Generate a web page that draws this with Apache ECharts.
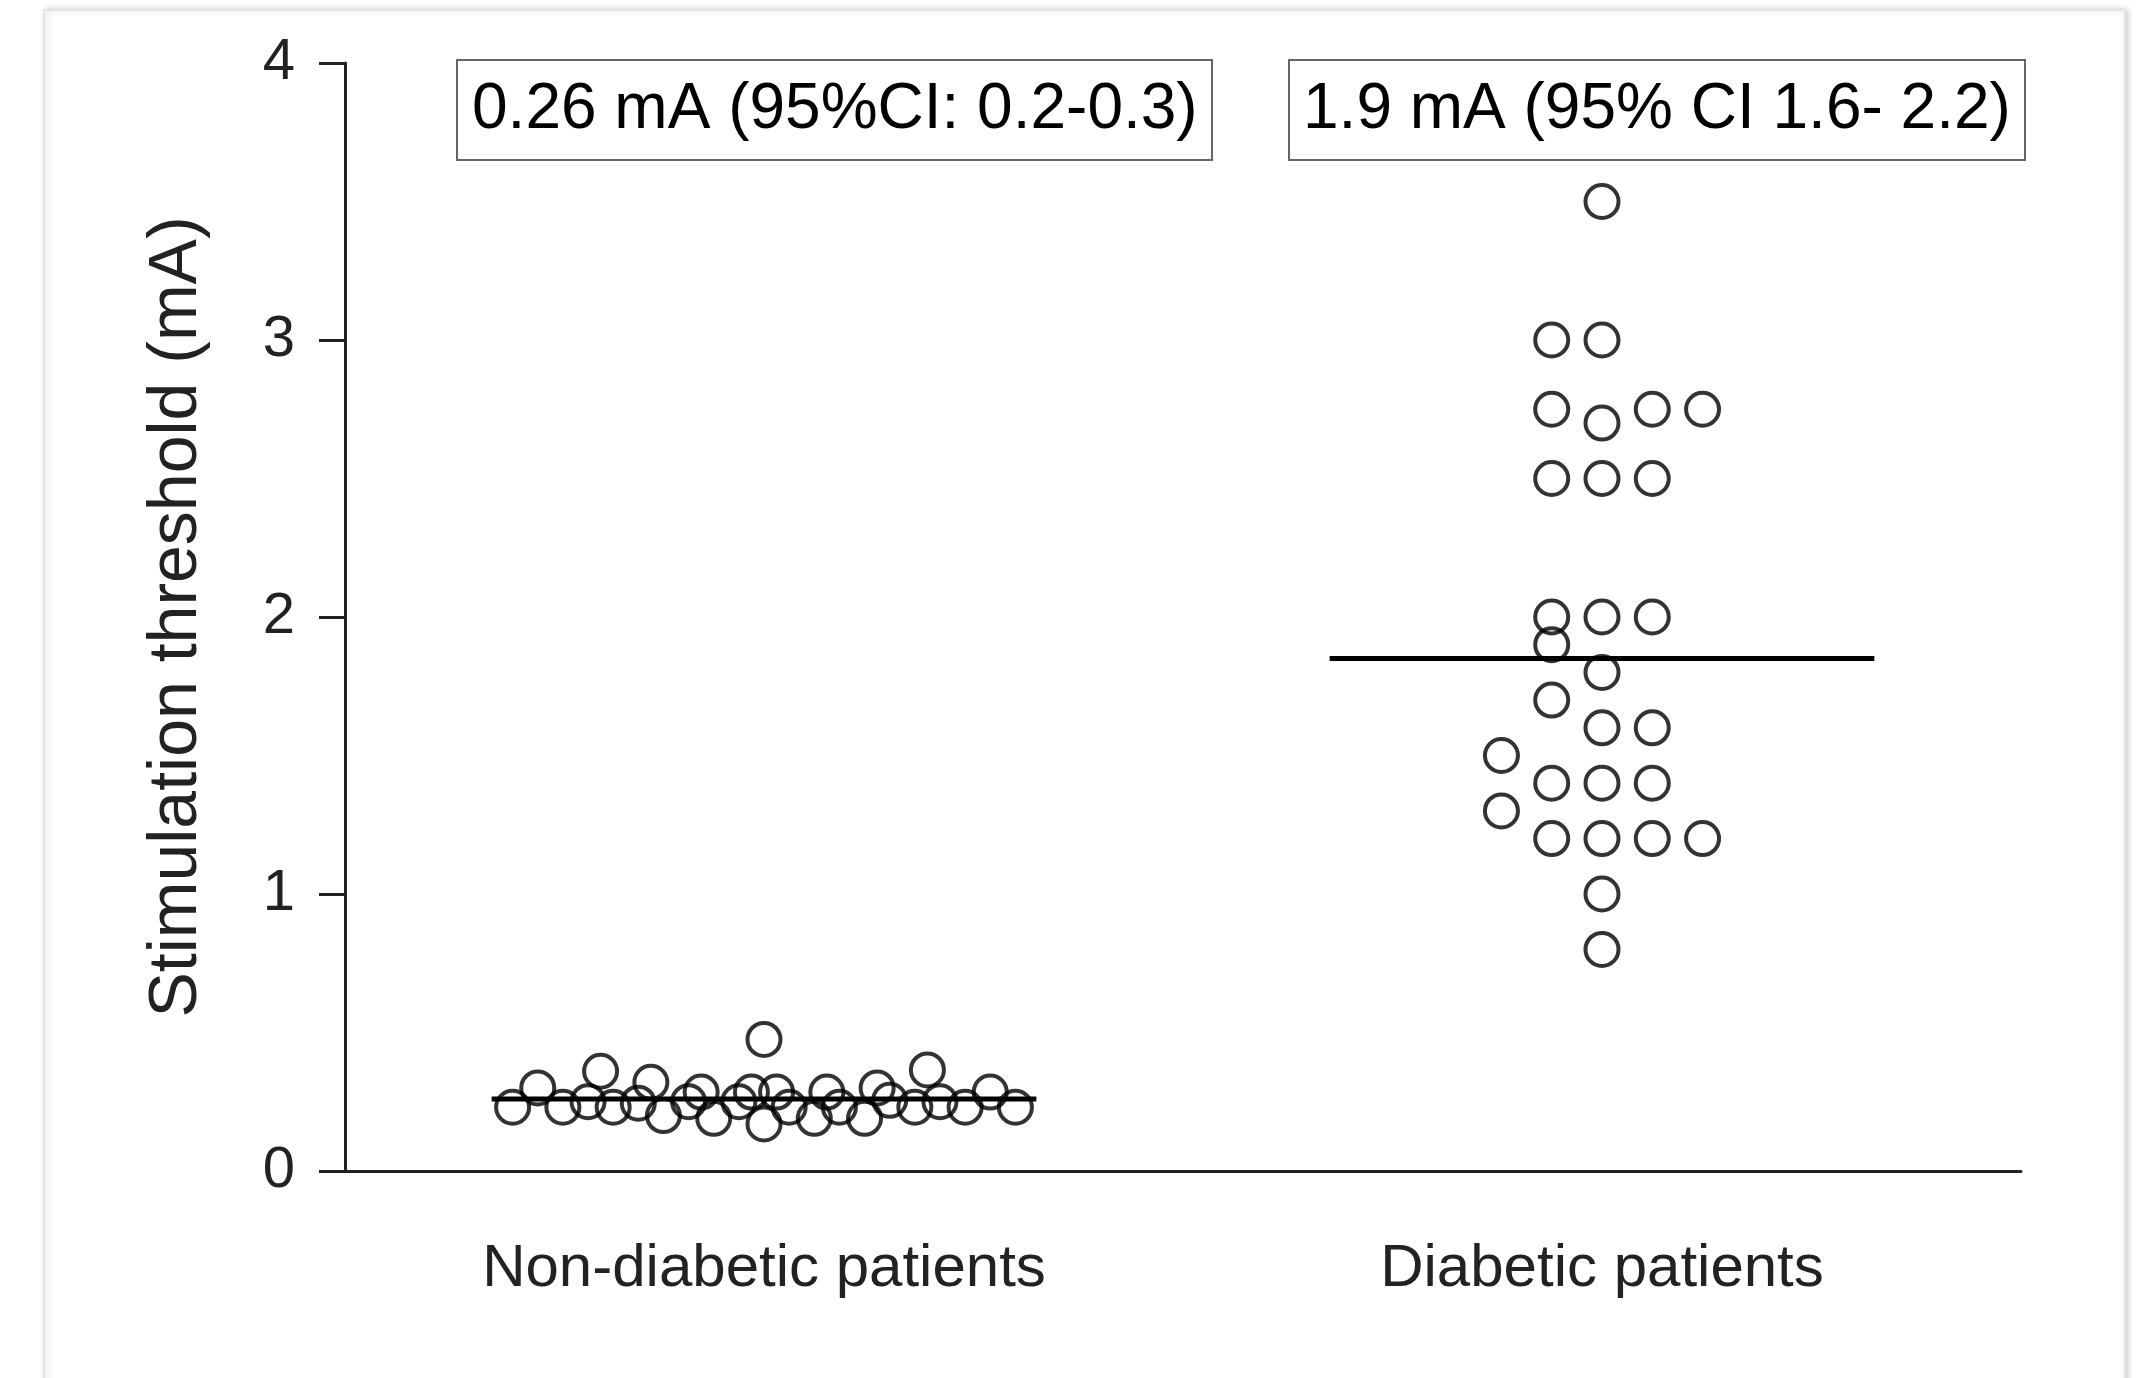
<!DOCTYPE html>
<html>
<head>
<meta charset="utf-8">
<title>Stimulation threshold</title>
<script src="https://cdn.jsdelivr.net/npm/echarts@6/dist/echarts.min.js"></script>
<style>
  html, body { margin: 0; padding: 0; background: #fff; }
  #chart { width: 2152px; height: 1378px; }
</style>
</head>
<body>
<div id="chart"></div>
<script>
// groups on the x axis
const groups = ['Non-diabetic patients', 'Diabetic patients']

// non-diabetic: horizontal slot (dot-plot column) and threshold value
const nonDiabeticSlots = [-20, -18, -16, -14, -13, -12, -10, -9, -8, -6, -5, -4, -2, -1, 0, 0, 1, 2, 4, 5, 6, 8, 9, 10, 12, 13, 14, 16, 18, 20]
const nonDiabeticValues = [0.23, 0.30, 0.23, 0.25, 0.36, 0.23, 0.245, 0.32, 0.20, 0.25, 0.285, 0.19, 0.25, 0.285, 0.475, 0.17, 0.285, 0.23, 0.19, 0.285, 0.23, 0.19, 0.30, 0.255, 0.23, 0.365, 0.25, 0.23, 0.285, 0.23]

// diabetic
const diabeticSlots = [0, -4, 0, -4, 0, 4, 8, -4, 0, 4, -4, 0, 4, -4, 0, -4, 0, 4, -8, -4, 0, 4, -8, -4, 0, 4, 8, 0, 0]
const diabeticValues = [3.5, 3.0, 3.0, 2.75, 2.7, 2.75, 2.75, 2.5, 2.5, 2.5, 2.0, 2.0, 2.0, 1.9, 1.8, 1.7, 1.6, 1.6, 1.5, 1.4, 1.4, 1.4, 1.3, 1.2, 1.2, 1.2, 1.2, 1.0, 0.8]

// mean lines and the boxed notes
const groupMeans = [0.26, 1.85]
const ciLabels = ['0.26 mA (95%CI: 0.2-0.3)', '1.9 mA (95% CI 1.6- 2.2)']

const slotWidth = 0.03
const meanHalfWidth = 0.65
const axisFont = 'Liberation Sans, Arial, Helvetica, sans-serif'

function dots(i, slots, values) {
  return values.map((v, k) => [2 * i + 1 + slots[k] * slotWidth, v])
}
function meanLine(i) {
  const c = 2 * i + 1
  return [[c - meanHalfWidth, groupMeans[i]], [c + meanHalfWidth, groupMeans[i]]]
}

const chart = echarts.init(document.getElementById('chart'))

const dotStyle = {
  type: 'scatter',
  xAxisIndex: 1,
  symbol: 'circle',
  symbolSize: 33,
  itemStyle: { color: 'rgba(0,0,0,0)', borderColor: '#000', borderWidth: 4 },
  emphasis: { disabled: true },
  z: 3,
}
const lineStyle = {
  type: 'line',
  xAxisIndex: 1,
  symbol: 'none',
  lineStyle: { color: '#000', width: 5 },
  emphasis: { disabled: true },
  z: 4,
}

chart.setOption({
  animation: false,
  backgroundColor: '#fff',
  graphic: [
    {
      type: 'rect',
      z: -10,
      silent: true,
      shape: { x: 44, y: 10, width: 2081, height: 1420 },
      style: {
        fill: '#fff',
        stroke: '#e2e5e5',
        lineWidth: 2,
        shadowBlur: 6,
        shadowOffsetX: 2,
        shadowColor: 'rgba(0,0,0,0.18)',
      },
    },
  ],
  title: [
    {
      text: ciLabels[0],
      left: 457,
      top: 60,
      padding: [18, 15],
      borderColor: '#666',
      borderWidth: 2,
      textStyle: { fontSize: 64, fontWeight: 'normal', color: '#000', fontFamily: axisFont },
    },
    {
      text: ciLabels[1],
      left: 1289,
      top: 60,
      padding: [18, 14],
      borderColor: '#666',
      borderWidth: 2,
      textStyle: { fontSize: 64, fontWeight: 'normal', color: '#000', fontFamily: axisFont },
    },
  ],
  grid: { left: 345, right: 131, top: 63, bottom: 207 },
  xAxis: [
    {
      type: 'category',
      data: groups,
      boundaryGap: true,
      axisLine: { lineStyle: { color: '#222', width: 3 } },
      axisTick: { alignWithLabel: true, length: 24, lineStyle: { color: '#222', width: 2 } },
      axisLabel: { fontSize: 60, color: '#222', margin: 68, fontFamily: axisFont },
      splitLine: { show: false },
    },
    {
      type: 'value',
      min: 0,
      max: 4,
      show: false,
    },
  ],
  yAxis: {
    type: 'value',
    min: 0,
    max: 4,
    interval: 1,
    name: 'Stimulation threshold (mA)',
    nameLocation: 'middle',
    nameGap: 134,
    nameTextStyle: { fontSize: 68, color: '#222', fontFamily: axisFont },
    axisLine: { show: true, lineStyle: { color: '#222', width: 3 } },
    axisTick: { show: true, length: 26, lineStyle: { color: '#222', width: 3 } },
    axisLabel: { fontSize: 58, color: '#222', margin: 50, fontFamily: axisFont },
    splitLine: { show: false },
  },
  series: [
    Object.assign({ name: groups[0], data: dots(0, nonDiabeticSlots, nonDiabeticValues) }, dotStyle),
    Object.assign({ name: groups[1], data: dots(1, diabeticSlots, diabeticValues) }, dotStyle),
    Object.assign({ name: 'mean 0', data: meanLine(0) }, lineStyle),
    Object.assign({ name: 'mean 1', data: meanLine(1) }, lineStyle),
  ],
})
</script>
</body>
</html>
